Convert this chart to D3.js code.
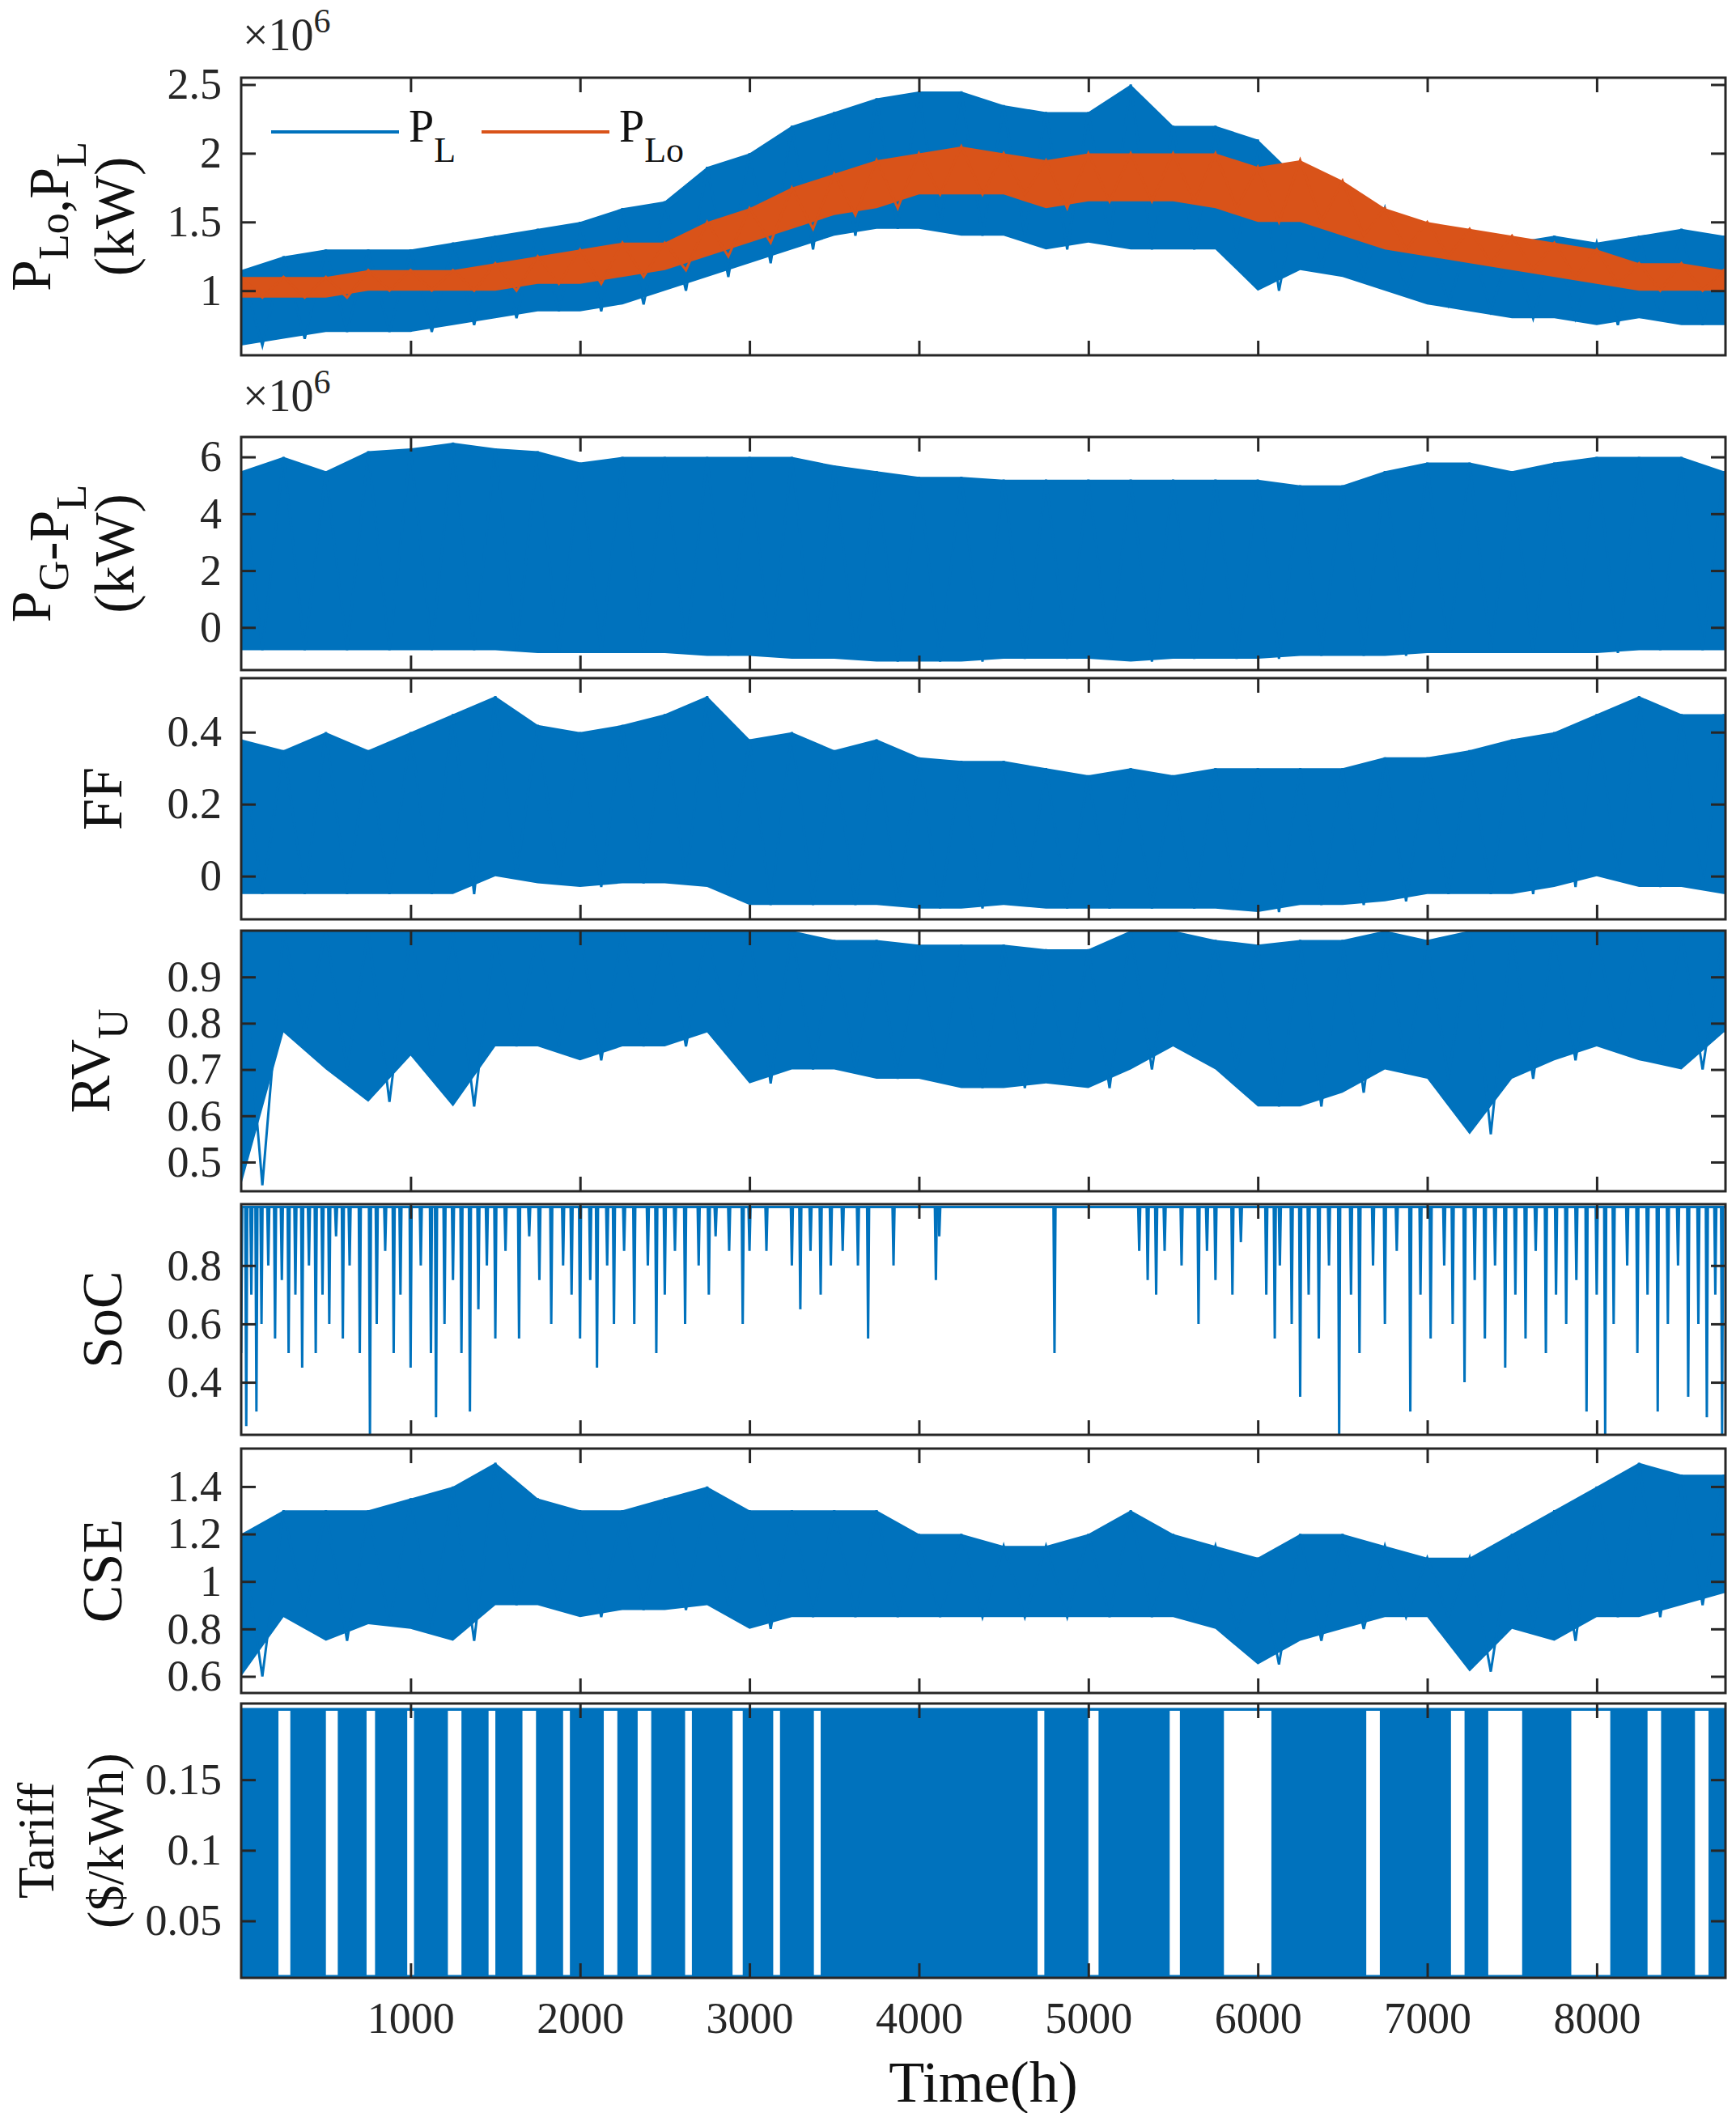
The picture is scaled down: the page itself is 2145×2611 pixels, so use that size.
<!DOCTYPE html>
<html><head><meta charset="utf-8">
<script src="https://cdn.jsdelivr.net/npm/d3@7"></script>
<style>body{margin:0;background:#fff} svg text{font-family:"Liberation Serif","Times New Roman",Times,serif !important}</style></head>
<body><svg id="c" width="2145" height="2611"></svg>
<script>
// ---- data (envelopes per 250 h bin) ----
const binTimes = d3.range(0, 8760, 250).concat([8760]);
const plHi  = [1.15,1.25,1.3,1.3, 1.3,1.35,1.4,1.45, 1.5,1.6,1.65,1.9, 2.0,2.2,2.3,2.4, 2.45,2.45,2.35,2.3, 2.3,2.5,2.2,2.2, 2.1,1.8,1.75,1.6, 1.45,1.4,1.35,1.4, 1.35,1.4,1.45,1.4,1.3];
const plLo  = [0.6,0.65,0.7,0.7, 0.7,0.75,0.8,0.85, 0.85,0.9,1.0,1.1, 1.2,1.3,1.4,1.45, 1.45,1.4,1.4,1.3, 1.35,1.3,1.3,1.3, 1.0,1.15,1.1,1.0, 0.9,0.85,0.8,0.8, 0.75,0.8,0.75,0.75,0.75];
const ploHi = [1.1,1.1,1.1,1.15, 1.15,1.15,1.2,1.25, 1.3,1.35,1.35,1.5, 1.6,1.75,1.85,1.95, 2.0,2.05,2.0,1.95, 2.0,2.0,2.0,2.0, 1.9,1.95,1.8,1.6, 1.5,1.45,1.4,1.35, 1.3,1.2,1.2,1.15,1.15];
const ploLo = [0.95,0.95,0.95,1.0, 1.0,1.0,1.0,1.05, 1.05,1.1,1.15,1.25, 1.35,1.45,1.55,1.6, 1.7,1.7,1.7,1.6, 1.65,1.65,1.65,1.6, 1.5,1.5,1.4,1.3, 1.25,1.2,1.15,1.1, 1.05,1.0,1.0,1.0,1.0];
const pgHi  = [5.5,6.0,5.5,6.2, 6.3,6.5,6.3,6.2, 5.8,6.0,6.0,6.0, 6.0,6.0,5.7,5.5, 5.3,5.3,5.2,5.2, 5.2,5.2,5.2,5.2, 5.2,5.0,5.0,5.5, 5.8,5.8,5.5,5.8, 6.0,6.0,6.0,5.5,5.0];
const pgLo  = [-0.8,-0.8,-0.8,-0.8, -0.8,-0.8,-0.8,-0.9, -0.9,-0.9,-0.9,-1.0, -1.0,-1.1,-1.1,-1.2, -1.2,-1.2,-1.1,-1.1, -1.1,-1.2,-1.1,-1.1, -1.1,-1.0,-1.0,-1.0, -0.9,-0.9,-0.9,-0.9, -0.9,-0.8,-0.8,-0.8,-0.8];
const ffHi  = [0.38,0.35,0.4,0.35, 0.4,0.45,0.5,0.42, 0.4,0.42,0.45,0.5, 0.38,0.4,0.35,0.38, 0.33,0.32,0.32,0.3, 0.28,0.3,0.28,0.3, 0.3,0.3,0.3,0.33, 0.33,0.35,0.38,0.4, 0.45,0.5,0.45,0.45,0.4];
const ffLo  = [-0.05,-0.05,-0.05,-0.05, -0.05,-0.05,0,-0.02, -0.03,-0.02,-0.02,-0.03, -0.08,-0.08,-0.08,-0.08, -0.09,-0.09,-0.08,-0.09, -0.09,-0.09,-0.09,-0.09, -0.1,-0.08,-0.08,-0.07, -0.05,-0.05,-0.05,-0.03, 0,-0.03,-0.03,-0.05,-0.05];
const rvHi  = [1.0,1.0,1.0,1.0, 1.0,1.0,1.0,1.0, 1.0,1.0,1.0,1.0, 1.0,1.0,0.98,0.98, 0.97,0.97,0.97,0.96, 0.96,1.0,1.0,0.98, 0.97,0.98,0.98,1.0, 0.98,1.0,1.0,1.0, 1.0,1.0,1.0,1.0,1.0];
const rvLo  = [0.45,0.78,0.7,0.63, 0.73,0.62,0.75,0.75, 0.72,0.75,0.75,0.78, 0.67,0.7,0.7,0.68, 0.68,0.66,0.66,0.67, 0.66,0.7,0.75,0.7, 0.62,0.62,0.65,0.7, 0.68,0.56,0.68,0.72, 0.75,0.72,0.7,0.78,0.78];
const cseHi = [1.2,1.3,1.3,1.3, 1.35,1.4,1.5,1.35, 1.3,1.3,1.35,1.4, 1.3,1.3,1.3,1.3, 1.2,1.2,1.15,1.15, 1.2,1.3,1.2,1.15, 1.1,1.2,1.2,1.15, 1.1,1.1,1.2,1.3, 1.4,1.5,1.45,1.45,1.35];
const cseLo = [0.6,0.85,0.75,0.82, 0.8,0.75,0.9,0.9, 0.85,0.88,0.88,0.9, 0.8,0.85,0.85,0.85, 0.85,0.85,0.85,0.85, 0.85,0.85,0.85,0.8, 0.65,0.75,0.8,0.85, 0.85,0.62,0.8,0.75, 0.85,0.85,0.9,0.95,0.95];
const socDipTimes = [0,30,60,90,120,160,200,240,280,320,360,400,440,480,520,560,600,640,700,760,800,850,900,940,1000,1060,1120,1150,1200,1250,1300,1350,1400,1450,1500,1560,1640,1700,1760,1830,1900,1950,2000,2060,2100,2160,2200,2260,2320,2400,2450,2500,2560,2620,2700,2760,2800,2880,2960,3000,3100,3250,3300,3360,3420,3480,3550,3640,3700,3850,4100,4120,4800,5300,5350,5400,5450,5550,5650,5700,5750,5850,5900,6050,6100,6130,6200,6250,6300,6360,6420,6480,6550,6600,6680,6750,6820,6900,6960,7020,7100,7150,7220,7280,7340,7400,7460,7520,7580,7640,7700,7760,7820,7880,7940,8000,8050,8100,8180,8240,8300,8360,8420,8480,8540,8600,8650,8700,8740];
const socDipVals  = [0.5,0.25,0.7,0.3,0.6,0.8,0.55,0.75,0.5,0.7,0.45,0.8,0.5,0.7,0.6,0.9,0.55,0.8,0.5,0.22,0.6,0.85,0.5,0.7,0.45,0.8,0.5,0.28,0.6,0.75,0.5,0.3,0.65,0.8,0.55,0.85,0.55,0.9,0.75,0.6,0.8,0.7,0.55,0.75,0.45,0.8,0.6,0.85,0.6,0.8,0.5,0.7,0.85,0.6,0.8,0.7,0.9,0.85,0.6,0.85,0.85,0.8,0.65,0.85,0.7,0.8,0.85,0.8,0.55,0.8,0.75,0.9,0.5,0.85,0.75,0.7,0.85,0.8,0.6,0.85,0.75,0.7,0.88,0.7,0.55,0.8,0.6,0.35,0.7,0.55,0.8,0.22,0.7,0.5,0.8,0.6,0.85,0.3,0.7,0.55,0.8,0.6,0.4,0.75,0.55,0.8,0.45,0.7,0.55,0.85,0.5,0.7,0.6,0.75,0.3,0.7,0.22,0.6,0.8,0.5,0.7,0.3,0.6,0.8,0.35,0.6,0.28,0.7,0.22];
const tariffGaps = [[220,290],[500,570],[740,790],[980,1020],[1220,1300],[1460,1500],[1660,1740],[1900,1940],[2140,2220],[2340,2420],[2620,2660],[2900,2960],[3140,3180],[3380,3420],[4700,4740],[5000,5060],[5480,5540],[5800,6080],[6640,6720],[7140,7220],[7360,7560],[7850,8080],[8300,8380],[8580,8660]];
const xTicks = [1000,2000,3000,4000,5000,6000,7000,8000];

const BLUE="#0072BD", ORANGE="#D95319";
const svg=d3.select("#c");
const L=298, R=2132;
const x=d3.scaleLinear().domain([0,8760]).range([L,R]);
const fmt=d3.format("~g");

const panels=[
 {top:96,bot:439,dom:[0.53,2.55],ticks:[1,1.5,2,2.5],label:["P_Lo,P_L","(kW)"],lx:[62,165],fs:70},
 {top:540,bot:828,dom:[-1.5,6.7],ticks:[0,2,4,6],label:["P_G-P_L","(kW)"],lx:[62,165],fs:70},
 {top:838,bot:1136,dom:[-0.12,0.55],ticks:[0,0.2,0.4],label:["FF"],lx:[150],fs:70},
 {top:1150,bot:1472,dom:[0.437,1.0],ticks:[0.5,0.6,0.7,0.8,0.9],label:["RV_U"],lx:[135],fs:70},
 {top:1488,bot:1773,dom:[0.22,1.01],ticks:[0.4,0.6,0.8],label:["SoC"],lx:[150],fs:70},
 {top:1790,bot:2092,dom:[0.53,1.56],ticks:[0.6,0.8,1,1.2,1.4],label:["CSE"],lx:[150],fs:70},
 {top:2105,bot:2444,dom:[0.0096,0.204],ticks:[0.05,0.1,0.15],label:["Tariff","($/kWh)"],lx:[66,152],fs:64},
];
panels.forEach(p=>p.y=d3.scaleLinear().domain(p.dom).range([p.bot,p.top]));

function clip(i){const p=panels[i];const id="cl"+i;
 svg.append("clipPath").attr("id",id).append("rect").attr("x",L).attr("y",p.top).attr("width",R-L).attr("height",p.bot-p.top);
 return svg.append("g").attr("clip-path",`url(#${id})`);}

function band(i,hi,lo,color){const p=panels[i];const g=clip(i);
 const data=binTimes.map((t,k)=>({t,hi:hi[k],lo:lo[k]}));
 g.append("path").datum(data).attr("fill",color)
  .attr("d",d3.area().x(d=>x(d.t)).y0(d=>p.y(d.lo)).y1(d=>p.y(d.hi)));
 const zz=[];data.forEach((d,k)=>{zz.push([d.t,d.hi]);if(k<data.length-1)zz.push([d.t+125,d.lo]);});
 g.append("path").datum(zz).attr("fill","none").attr("stroke",color).attr("stroke-width",3)
  .attr("d",d3.line().x(d=>x(d[0])).y(d=>p.y(d[1])));
 return g;}

band(0,plHi,plLo,BLUE);
band(0,ploHi,ploLo,ORANGE);
band(1,pgHi,pgLo,BLUE);
band(2,ffHi,ffLo,BLUE);
band(3,rvHi,rvLo,BLUE);
band(5,cseHi,cseLo,BLUE);

{const p=panels[4],g=clip(4);
 g.append("line").attr("x1",L).attr("x2",R).attr("y1",p.y(1.0)).attr("y2",p.y(1.0)).attr("stroke",BLUE).attr("stroke-width",3);
 g.selectAll("path.d").data(socDipTimes.map((t,k)=>[t,socDipVals[k]])).enter().append("path")
  .attr("fill","none").attr("stroke",BLUE).attr("stroke-width",3)
  .attr("d",d=>d3.line()([[x(d[0]-6),p.y(1.0)],[x(d[0]),p.y(d[1])],[x(d[0]+6),p.y(1.0)]]));}

{const p=panels[6],g=clip(6);
 g.append("rect").attr("x",L).attr("y",p.y(0.2)).attr("width",R-L).attr("height",p.y(0.0105)-p.y(0.2)).attr("fill",BLUE);
 g.selectAll("rect.gap").data(tariffGaps).enter().append("rect")
  .attr("x",d=>x(d[0])).attr("width",d=>x(d[1])-x(d[0])).attr("y",p.y(0.2)+2).attr("height",p.y(0.0105)-p.y(0.2)-4).attr("fill","#fff");
 g.append("line").attr("x1",L).attr("x2",R).attr("y1",p.y(0.2)).attr("y2",p.y(0.2)).attr("stroke",BLUE).attr("stroke-width",3);
 g.append("line").attr("x1",L).attr("x2",R).attr("y1",p.y(0.0105)).attr("y2",p.y(0.0105)).attr("stroke",BLUE).attr("stroke-width",3);}

panels.forEach((p,i)=>{
 const g=svg.append("g");
 g.append("g").attr("transform",`translate(${L},0)`).call(d3.axisLeft(p.y).tickValues(p.ticks).tickSize(-18).tickPadding(24).tickFormat(fmt));
 g.append("g").attr("transform",`translate(${R},0)`).call(d3.axisRight(p.y).tickValues(p.ticks).tickSize(-18).tickFormat(""));
 g.append("g").attr("transform",`translate(0,${p.bot})`).call(d3.axisBottom(x).tickValues(xTicks).tickSize(-18).tickPadding(30).tickFormat(i==6?d=>d:""));
 g.append("g").attr("transform",`translate(0,${p.top})`).call(d3.axisTop(x).tickValues(xTicks).tickSize(-18).tickFormat(""));
 g.selectAll("path.domain").remove();
 g.append("rect").attr("x",L).attr("y",p.top).attr("width",R-L).attr("height",p.bot-p.top).attr("fill","none").attr("stroke","#262626").attr("stroke-width",3);
 g.selectAll(".tick line").attr("stroke","#262626").attr("stroke-width",3);
 g.selectAll(".tick text").style("font-size","54px").attr("fill","#262626");
 const cy=(p.top+p.bot)/2;
 p.label.forEach((lab,k)=>{
  const t=svg.append("text").attr("transform",`translate(${p.lx[k]},${cy}) rotate(-90)`).attr("text-anchor","middle")
   .attr("font-size",p.fs).attr("fill","#111");
  const parts=lab.split(/(_[A-Za-z]+)/).filter(s=>s);
  parts.forEach(s=>{ if(s[0]=="_"){t.append("tspan").attr("dy",22).attr("font-size",52).text(s.slice(1));t.append("tspan").attr("dy",-22).text("");}
   else t.append("tspan").text(s);});
 });
});
[62,508].forEach(yy=>{const t=svg.append("text").attr("x",300).attr("y",yy).attr("font-size",56).attr("fill","#262626");
 t.append("tspan").text("×10");t.append("tspan").attr("dy",-22).attr("font-size",42).text("6");});
[[BLUE,335,"P","L"],[ORANGE,595,"P","Lo"]].forEach(([c,x0,a,b])=>{
 svg.append("line").attr("x1",x0).attr("x2",x0+158).attr("y1",163).attr("y2",163).attr("stroke",c).attr("stroke-width",4);
 const t=svg.append("text").attr("x",x0+170).attr("y",175).attr("font-size",56).attr("fill","#111");
 t.append("tspan").text(a);t.append("tspan").attr("dy",25).attr("font-size",44).text(b);});
svg.append("text").attr("x",(L+R)/2).attr("y",2597).attr("text-anchor","middle").attr("font-size",72).attr("fill","#111").text("Time(h)");
</script></body></html>
